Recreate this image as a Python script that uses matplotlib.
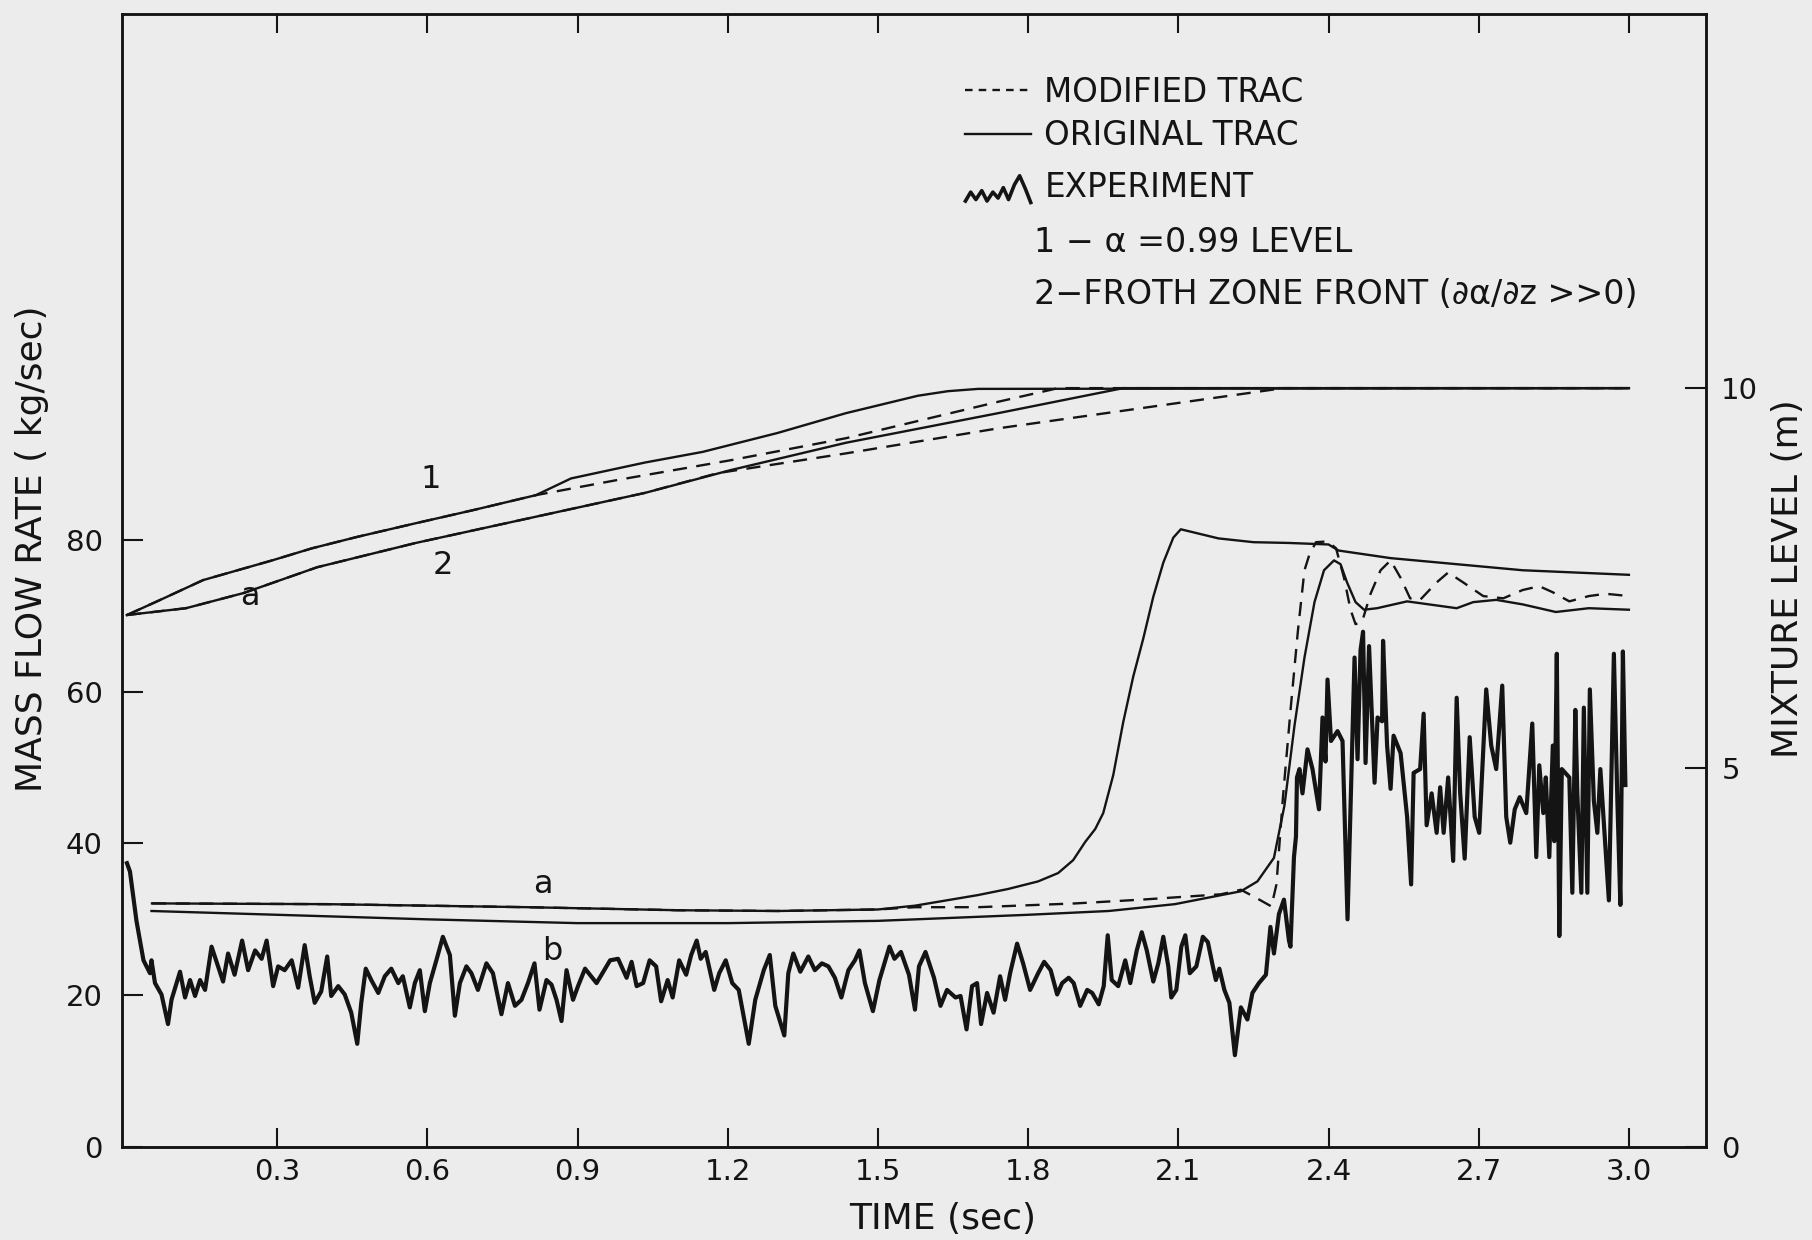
import numpy as np
import matplotlib
matplotlib.use("Agg")
import matplotlib.pyplot as plt
from matplotlib.lines import Line2D
from matplotlib.legend_handler import HandlerBase

# ---------------- data ----------------
# Mixture level (m), right axis
t_lvl1_orig = [0.0, 0.07, 0.152, 0.29, 0.37, 0.46, 0.577, 0.69, 0.817, 0.887, 1.035, 1.15, 1.30, 1.436, 1.58, 1.64, 1.70, 3.0]
lvl1_orig = [7.01, 7.22, 7.47, 7.73, 7.89, 8.04, 8.22, 8.39, 8.59, 8.81, 9.02, 9.16, 9.41, 9.67, 9.90, 9.96, 9.99, 10.0]

t_lvl1_mod = [0.0, 0.07, 0.152, 0.29, 0.37, 0.46, 0.577, 0.69, 0.817, 0.98, 1.206, 1.436, 1.74, 1.86, 3.0]
lvl1_mod = [7.01, 7.22, 7.47, 7.73, 7.89, 8.04, 8.22, 8.39, 8.59, 8.79, 9.05, 9.34, 9.82, 10.0, 10.0]

t_lvl2_orig = [0.0, 0.118, 0.233, 0.38, 0.577, 0.806, 1.035, 1.206, 1.436, 1.74, 1.99, 3.0]
lvl2_orig = [7.01, 7.10, 7.30, 7.64, 7.96, 8.29, 8.62, 8.92, 9.28, 9.67, 10.0, 10.0]

t_lvl2_mod = [0.0, 0.118, 0.233, 0.38, 0.577, 0.806, 1.035, 1.18, 1.436, 1.74, 2.31, 3.0]
lvl2_mod = [7.01, 7.10, 7.30, 7.64, 7.96, 8.29, 8.62, 8.88, 9.14, 9.47, 10.0, 10.0]

# Mass flow rate (kg/sec), left axis
t_flow_a = [0.05, 0.4, 0.8, 1.1, 1.3, 1.5, 1.574, 1.70, 1.76, 1.82, 1.86, 1.89, 1.914, 1.934,
            1.95, 1.97, 1.99, 2.01, 2.03, 2.05, 2.07, 2.09, 2.105, 2.13, 2.18, 2.25, 2.32,
            2.40, 2.42, 2.524, 2.656, 2.788, 3.0]
flow_a = [32.1, 32.0, 31.6, 31.2, 31.1, 31.3, 31.8, 33.2, 34.0, 35.0, 36.1, 37.8, 40.2, 41.9,
          44.0, 49.0, 56.0, 62.0, 67.0, 72.5, 77.0, 80.3, 81.4, 81.0, 80.2, 79.7, 79.6,
          79.4, 78.6, 77.6, 76.8, 76.0, 75.4]

t_flow_b = [0.049, 0.3, 0.6, 0.9, 1.2, 1.5, 1.8, 1.961, 2.093, 2.225, 2.258, 2.291, 2.312, 2.332,
            2.352, 2.372, 2.391, 2.411, 2.424, 2.437, 2.454, 2.471, 2.497, 2.557, 2.623, 2.656,
            2.689, 2.735, 2.788, 2.854, 2.92, 3.0]
flow_b = [31.1, 30.6, 30.0, 29.5, 29.5, 29.8, 30.6, 31.1, 32.0, 33.7, 35.0, 38.1, 45.0, 55.5,
          64.5, 71.8, 76.0, 77.3, 76.8, 74.4, 71.8, 70.8, 71.0, 71.9, 71.3, 71.0,
          71.8, 72.1, 71.5, 70.5, 71.0, 70.8]

t_flow_mod = [0.05, 0.4, 0.8, 1.1, 1.3, 1.5, 1.574, 1.70, 1.895, 2.027, 2.185, 2.225, 2.259, 2.286,
              2.296, 2.309, 2.325, 2.339, 2.352, 2.362, 2.375, 2.398, 2.415, 2.431, 2.444, 2.454,
              2.467, 2.484, 2.504, 2.524, 2.544, 2.563, 2.583, 2.616, 2.639, 2.669, 2.709, 2.749,
              2.788, 2.821, 2.848, 2.881, 2.92, 2.954, 3.0]
flow_mod = [32.1, 32.0, 31.6, 31.2, 31.1, 31.3, 31.6, 31.6, 32.1, 32.6, 33.3, 33.9, 32.7, 31.7,
            34.6, 46.1, 58.2, 68.1, 76.0, 78.1, 79.7, 79.8, 78.9, 75.0, 70.8, 68.9,
            69.2, 72.9, 76.0, 77.3, 75.0, 72.3, 72.1, 74.4, 75.7, 74.4, 72.6, 72.3,
            73.4, 73.9, 73.1, 71.9, 72.6, 72.9, 72.6]

t_exp = [0.0, 0.006, 0.019, 0.033, 0.046, 0.049, 0.056, 0.069, 0.082, 0.089, 0.106, 0.116, 0.126,
         0.136, 0.146, 0.156, 0.169, 0.182, 0.192, 0.202, 0.215, 0.230, 0.242, 0.256, 0.269,
         0.279, 0.292, 0.302, 0.315, 0.329, 0.342, 0.355, 0.365, 0.375, 0.388, 0.400, 0.408,
         0.422, 0.435, 0.448, 0.460, 0.468, 0.477, 0.488, 0.502, 0.515, 0.528, 0.542, 0.551,
         0.565, 0.575, 0.585, 0.595, 0.605, 0.618, 0.631, 0.645, 0.655, 0.665, 0.678, 0.688,
         0.701, 0.718, 0.731, 0.748, 0.761, 0.775, 0.788, 0.801, 0.814, 0.824, 0.838, 0.848,
         0.858, 0.868, 0.878, 0.891, 0.901,
         0.915, 0.938, 0.965, 0.981, 0.998, 1.008, 1.018, 1.031, 1.044, 1.057, 1.067, 1.080,
         1.090, 1.103, 1.117, 1.127, 1.138, 1.146, 1.156, 1.173, 1.183, 1.196, 1.209, 1.222,
         1.242, 1.255, 1.272, 1.284, 1.295, 1.313, 1.321, 1.331, 1.345, 1.361, 1.374, 1.388,
         1.401, 1.414, 1.427, 1.441, 1.454, 1.463, 1.474, 1.490, 1.503, 1.523, 1.533, 1.546,
         1.562, 1.574, 1.582, 1.595, 1.612, 1.625, 1.638, 1.655, 1.665, 1.677, 1.688, 1.698,
         1.706, 1.718, 1.731, 1.744, 1.754, 1.764, 1.778, 1.790, 1.804, 1.820,
         1.832, 1.845, 1.858, 1.868, 1.881, 1.891, 1.904, 1.918, 1.928, 1.941, 1.951, 1.959,
         1.967, 1.980, 1.994, 2.004, 2.017, 2.027, 2.037, 2.050, 2.060, 2.070, 2.080, 2.086,
         2.096, 2.106, 2.114, 2.123, 2.136, 2.149, 2.159, 2.169, 2.175, 2.182, 2.192, 2.202,
         2.213, 2.225, 2.238, 2.248, 2.261, 2.275, 2.279, 2.284, 2.291, 2.301, 2.311, 2.321,
         2.324, 2.331, 2.335, 2.337, 2.342, 2.348, 2.358, 2.368, 2.381, 2.388, 2.394, 2.398,
         2.405, 2.418, 2.428, 2.438, 2.448, 2.452, 2.458, 2.464, 2.469, 2.474, 2.481, 2.487,
         2.492, 2.498, 2.507, 2.509, 2.517, 2.524, 2.530, 2.544, 2.557, 2.565, 2.570, 2.583,
         2.590, 2.596, 2.606, 2.616, 2.623, 2.630, 2.639, 2.649, 2.656, 2.663, 2.672, 2.682,
         2.692, 2.701, 2.715, 2.725, 2.735, 2.747, 2.755, 2.763, 2.772, 2.782, 2.795, 2.807,
         2.815, 2.821, 2.829, 2.834, 2.841, 2.848, 2.851, 2.856, 2.861, 2.866, 2.881, 2.887,
         2.893, 2.897, 2.905, 2.910, 2.917, 2.922, 2.930, 2.937, 2.943, 2.960, 2.970, 2.977,
         2.983, 2.988, 2.993]
exp_flow = [37.4, 36.3, 29.8, 24.6, 22.9, 24.6, 21.6, 20.1, 16.2, 19.4, 23.1, 19.7, 22.0,
            19.9, 22.0, 20.7, 26.4, 23.8, 21.8, 25.5, 22.7, 27.2, 23.3, 25.9, 24.8,
            27.2, 21.2, 23.8, 23.3, 24.6, 21.0, 26.6, 22.5, 19.0, 20.5, 25.1, 19.9,
            21.2, 20.1, 17.7, 13.6, 19.0, 23.5, 22.0, 20.3, 22.5, 23.5, 21.6, 22.5,
            18.4, 21.6, 23.3, 17.9, 21.6, 24.6, 27.7, 25.3, 17.3, 21.6, 23.8, 22.9,
            20.7, 24.2, 22.9, 17.5, 21.6, 18.6, 19.4, 21.6, 24.2, 18.1, 22.0, 21.4,
            19.4, 16.6, 23.3, 19.4, 21.2,
            23.5, 21.6, 24.6, 24.8, 22.3, 24.4, 21.2, 21.6, 24.6, 23.8, 19.2, 22.0,
            19.7, 24.6, 22.7, 25.3, 27.2, 24.8, 25.7, 20.7, 22.9, 24.6, 21.6, 20.7,
            13.6, 19.4, 23.3, 25.3, 18.6, 14.7, 22.9, 25.5, 23.1, 25.1, 23.3, 24.2,
            23.8, 22.3, 19.7, 23.3, 24.6, 25.9, 21.6, 17.9, 22.0, 26.4, 24.8, 25.7,
            22.7, 18.1, 23.8, 25.7, 22.3, 18.6, 20.7, 19.7, 19.9, 15.5, 21.2, 21.6,
            16.2, 20.3, 17.7, 22.5, 19.4, 22.9, 26.8, 24.2, 20.7, 22.9,
            24.4, 23.3, 20.1, 21.6, 22.3, 21.6, 18.6, 20.7, 20.3, 18.8, 21.2, 27.9,
            22.0, 21.2, 24.6, 21.6, 25.9, 28.3, 25.9, 21.8, 24.2, 27.7, 23.8, 19.7,
            20.7, 26.4, 27.9, 22.9, 23.8, 27.7, 27.0, 23.8, 22.0, 23.5, 20.7, 19.0,
            12.1, 18.4, 16.8, 20.3, 21.6, 22.7, 25.5, 29.0, 25.5, 30.7, 32.6, 27.2,
            26.4, 38.2, 40.9, 48.7, 49.8, 46.6, 52.4, 49.8, 44.5, 56.6, 50.8, 61.6,
            53.5, 54.8, 53.5, 30.0, 55.0, 64.5, 51.1, 65.5, 67.9, 50.6, 66.0, 56.1,
            48.0, 56.6, 56.1, 66.7, 52.9, 47.2, 54.2, 51.9, 43.5, 34.6, 49.3, 49.8,
            57.1, 42.4, 46.6, 41.4, 47.4, 41.4, 48.7, 37.7, 59.2, 46.6, 38.0, 54.0,
            43.5, 41.4, 60.3, 52.9, 49.8, 60.8, 43.5, 40.1, 44.5, 46.1, 44.0, 55.8,
            38.2, 50.3, 44.0, 48.7, 38.2, 52.9, 40.3, 65.0, 27.8, 49.8, 48.7, 33.5,
            57.6, 46.6, 33.5, 57.9, 33.5, 60.3, 45.6, 41.4, 49.8, 32.5, 65.0, 45.6,
            31.9, 65.3, 47.7]

x_ticks = [0.3, 0.6, 0.9, 1.2, 1.5, 1.8, 2.1, 2.4, 2.7, 3.0]
x_ticklabels = ["0.3", "0.6", "0.9", "1.2", "1.5", "1.8", "2.1", "2.4", "2.7", "3.0"]
left_ticks = [0, 20, 40, 60, 80]
right_ticks = [0, 5, 10]

legend_labels = ["MODIFIED TRAC", "ORIGINAL TRAC", "EXPERIMENT"]
note_lines = ["1 \u2212 \u03b1 =0.99 LEVEL", "2\u2212FROTH ZONE FRONT (\u2202\u03b1/\u2202z >>0)"]

# ---------------- style ----------------
BG = "#ececec"
INK = "#141414"
plt.rcParams['font.family'] = ['DejaVu Sans']

fig = plt.figure(figsize=(18.12, 12.40), dpi=100, facecolor=BG)
ax = fig.add_axes([0.0673, 0.075, 0.8742, 0.9137])
ax.set_facecolor(BG)
ax2 = ax.twinx()

ax.set_xlim(-0.01, 3.154)
ax.set_ylim(0, 149.3)
ax2.set_ylim(0, 14.93)

lw_model = 1.7
dash = (6, 4)

# level curves (right axis)
ax2.plot(t_lvl1_orig, lvl1_orig, color=INK, lw=lw_model)
ax2.plot(t_lvl2_orig, lvl2_orig, color=INK, lw=lw_model)
ax2.plot(t_lvl1_mod, lvl1_mod, color=INK, lw=lw_model, dashes=dash)
ax2.plot(t_lvl2_mod, lvl2_mod, color=INK, lw=lw_model, dashes=dash)

# flow curves (left axis)
ax.plot(t_flow_a, flow_a, color=INK, lw=lw_model)
ax.plot(t_flow_b, flow_b, color=INK, lw=lw_model)
ax.plot(t_flow_mod, flow_mod, color=INK, lw=lw_model, dashes=dash)
ax.plot(t_exp, exp_flow, color=INK, lw=3.0, solid_joinstyle='round')

# axes styling
for a in (ax, ax2):
    for s in a.spines.values():
        s.set_linewidth(1.8)
        s.set_color(INK)

ax.set_xticks(x_ticks)
ax.set_xticklabels(x_ticklabels)
ax.set_yticks(left_ticks)
ax.tick_params(axis='x', direction='in', length=14, width=1.5, top=True, labeltop=False,
               labelsize=21, pad=8, colors=INK)
ax.tick_params(axis='y', direction='in', length=15, width=1.5, right=False,
               labelsize=21, pad=14, colors=INK)
ax2.set_yticks(right_ticks)
ax2.tick_params(axis='y', direction='in', length=15, width=1.5, left=False,
                labelsize=21, pad=11, colors=INK)

ax.set_xlabel("TIME (sec)", fontsize=26, color=INK, va='center')
ax.xaxis.set_label_coords(0.518, -0.0636)
ax.set_ylabel("MASS FLOW RATE ( kg/sec)", fontsize=26, color=INK, va='center')
ax.yaxis.set_label_coords(-0.0568, 0.528)
ax2.set_ylabel("MIXTURE LEVEL (m)", fontsize=26, color=INK, va='center', rotation=90)
ax2.yaxis.set_label_coords(1.052, 0.502)

# curve labels
lab_kw = dict(fontsize=23, color=INK, ha='center', va='center')
ax.text(0.607, 87.9, "1", **lab_kw)
ax.text(0.631, 76.6, "2", **lab_kw)
ax.text(0.246, 72.6, "a", **lab_kw)
ax.text(0.831, 34.6, "a", **lab_kw)
ax.text(0.849, 25.8, "b", **lab_kw)


# legend with a squiggle handle for the experiment
class SquiggleHandler(HandlerBase):
    fx = [0.0, 0.08, 0.16, 0.25, 0.33, 0.42, 0.50, 0.58, 0.66, 0.75, 0.83, 0.92, 1.0]
    fy = [0.15, 0.45, 0.2, 0.5, 0.15, 0.45, 0.25, 0.6, 0.2, 0.7, 1.0, 0.55, 0.1]

    def create_artists(self, legend, orig_handle, xdescent, ydescent, width, height, fontsize, trans):
        xs = np.array(self.fx) * width - xdescent
        ys = (np.array(self.fy) * 1.3 - 0.35) * height - ydescent
        ln = Line2D(xs, ys, color=INK, lw=2.6, solid_joinstyle='round')
        ln.set_transform(trans)
        return [ln]


leg_kw = dict(loc='upper left', frameon=False, fontsize=23.5, handlelength=2.0,
              handletextpad=0.42, labelspacing=0.33, borderpad=0, borderaxespad=0)
h_mod = Line2D([], [], color=INK, lw=lw_model, dashes=(3.2, 2.6))
h_orig = Line2D([], [], color=INK, lw=lw_model)
h_exp = Line2D([], [], color=INK, lw=2.6)
leg1 = ax.legend([h_mod, h_orig], legend_labels[:2], bbox_to_anchor=(0.5325, 0.9457), **leg_kw)
ax.add_artist(leg1)
leg2 = ax.legend([h_exp], legend_labels[2:], bbox_to_anchor=(0.5325, 0.861),
                 handler_map={h_exp: SquiggleHandler()}, **leg_kw)
for lg in (leg1, leg2):
    for txt in lg.get_texts():
        txt.set_color(INK)

ax.text(0.576, 0.798, note_lines[0], transform=ax.transAxes, fontsize=24, color=INK,
        ha='left', va='center')
ax.text(0.576, 0.752, note_lines[1], transform=ax.transAxes, fontsize=24, color=INK,
        ha='left', va='center')

fig.savefig("out.png", dpi=100, facecolor=BG)
